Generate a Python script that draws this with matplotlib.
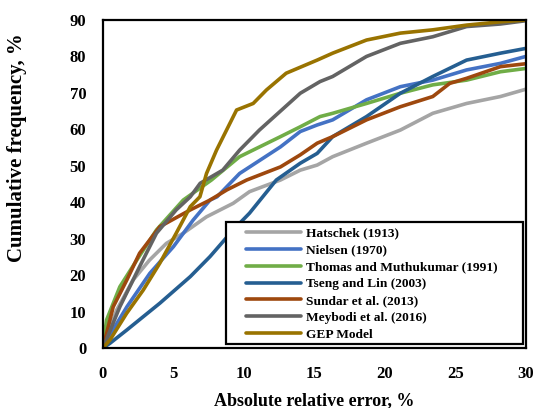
import matplotlib
matplotlib.use("Agg")
import matplotlib.pyplot as plt
from matplotlib.patches import Rectangle

plt.rcParams['font.family'] = ['Liberation Serif', 'DejaVu Serif']
plt.rcParams['font.weight'] = 'bold'

# series: (absolute relative error %, cumulative frequency %)
hatschek_x = [0, 0.97, 2.15, 3.3, 4.5, 5.7, 7.35, 9.24, 10.4, 12.6, 14, 15.2, 16.3, 18.7, 21.1, 23.4, 25.8, 28.2, 30]
hatschek_y = [0, 10.4, 18.7, 24.1, 28.7, 31.5, 36, 39.7, 42.9, 46.1, 48.8, 50.2, 52.5, 56.2, 59.8, 64.4, 67.1, 69, 71]

nielsen_x = [0, 0.7, 1.7, 3.33, 5, 6.4, 7.6, 8.1, 9.7, 12.6, 14, 15.2, 16.3, 18.7, 21.1, 23.4, 25.8, 28.2, 30]
nielsen_y = [0, 4.9, 11.3, 20.5, 27.8, 35.1, 40.6, 41.5, 47.9, 55.2, 59.4, 61.2, 62.6, 68.1, 71.7, 73.5, 76.3, 78.1, 80]

thomas_x = [0, 0.26, 1.2, 2.4, 3.8, 5.7, 7.7, 9.7, 12.6, 14, 15.4, 16.3, 18.7, 21.1, 23.4, 25.8, 28.2, 30]
thomas_y = [0, 7.7, 16.8, 24.1, 32.4, 40.6, 46.1, 52.5, 58, 60.7, 63.5, 64.4, 67.1, 69.9, 72.2, 73.5, 75.8, 76.7]

tseng_x = [0, 0.5, 1.68, 2.86, 4.04, 6.2, 7.6, 9.24, 10.4, 12.3, 14, 15.2, 16.3, 18.7, 21.1, 23.4, 25.8, 28.2, 30]
tseng_y = [0, 1.3, 4.9, 8.6, 12.3, 19.6, 25.1, 32.4, 37, 46.1, 50.7, 53.4, 58, 63.5, 69.9, 74.5, 79, 80.9, 82.2]

sundar_x = [0, 0.73, 1.7, 2.6, 4.04, 6.2, 7.6, 8.8, 10.2, 12.6, 14, 15.2, 16.3, 18.7, 21.1, 23.4, 24.6, 25.8, 28.2, 30]
sundar_y = [0, 11.3, 18.7, 26, 33.3, 37.9, 40.6, 43.4, 46.1, 49.7, 53, 56.2, 58, 62.6, 66.2, 69, 72.6, 74, 77.2, 78]

meybodi_x = [0, 1.2, 2.6, 3.8, 5.2, 6.2, 6.9, 8.5, 9.7, 11.1, 14, 15.4, 16.3, 18.7, 21.1, 23.4, 25.8, 28.2, 30]
meybodi_y = [0, 11.3, 22.3, 31.5, 37.9, 41.5, 45.2, 48.8, 54.3, 59.8, 69.9, 73.1, 74.5, 80, 83.6, 85.4, 88.2, 88.9, 89.8]

gep_x = [0, 0.5, 1.68, 2.86, 4.04, 5.2, 6.2, 6.88, 7.35, 8.06, 9.48, 10.66, 11.6, 13, 15.2, 16.3, 18.7, 21.1, 23.4, 25.8, 28.2, 30]
gep_y = [0, 2.2, 9.5, 15.9, 23.3, 31.5, 38.8, 41.5, 47.9, 54.3, 65.3, 67.1, 70.8, 75.4, 79, 80.9, 84.5, 86.4, 87.3, 88.6, 89.5, 90]

names = ['Hatschek (1913)', 'Nielsen (1970)', 'Thomas and Muthukumar (1991)',
         'Tseng and Lin (2003)', 'Sundar et al. (2013)', 'Meybodi et al. (2016)', 'GEP Model']
xs = [hatschek_x, nielsen_x, thomas_x, tseng_x, sundar_x, meybodi_x, gep_x]
ys = [hatschek_y, nielsen_y, thomas_y, tseng_y, sundar_y, meybodi_y, gep_y]
colors = ['#A5A5A5', '#4472C4', '#70AD47', '#255E91', '#9E480E', '#636363', '#997300']

fig = plt.figure(figsize=(5.36, 4.08), dpi=100)
ax = fig.add_axes([0.192, 0.147, 0.789, 0.804])

for x, y, c, n in zip(xs, ys, colors, names):
    ax.plot(x, y, color=c, lw=2.6, label=n, solid_capstyle='round')

ax.set_xlim(0, 30)
ax.set_ylim(0, 90)
ax.set_xticks(range(0, 31, 5))
ax.set_yticks(range(0, 91, 10))
ax.tick_params(axis='x', length=0, labelsize=12, pad=13)
ax.tick_params(axis='y', length=0, labelsize=12, pad=12)
for s in ax.spines.values():
    s.set_linewidth(1.6)

ax.set_xlabel('Absolute relative error, %', fontsize=13, fontweight='bold', labelpad=7)
ax.set_ylabel('Cumulative frequency, %', fontsize=15, fontweight='bold')
ax.yaxis.set_label_coords(-0.18, 0.61)

# legend box is wider than its content, so draw the frame separately
box = Rectangle((0.291, 0.012), 0.702, 0.372, transform=ax.transAxes,
                facecolor='white', edgecolor='black', lw=1.6, zorder=4.5)
ax.add_patch(box)
leg = ax.legend(loc='upper left', bbox_to_anchor=(0.338, 0.368), borderaxespad=0,
                fontsize=9.6, handlelength=4.1, handletextpad=0.4, labelspacing=0.34,
                borderpad=0, frameon=False)
leg.set_zorder(5)

fig.savefig('out.png', dpi=100)
